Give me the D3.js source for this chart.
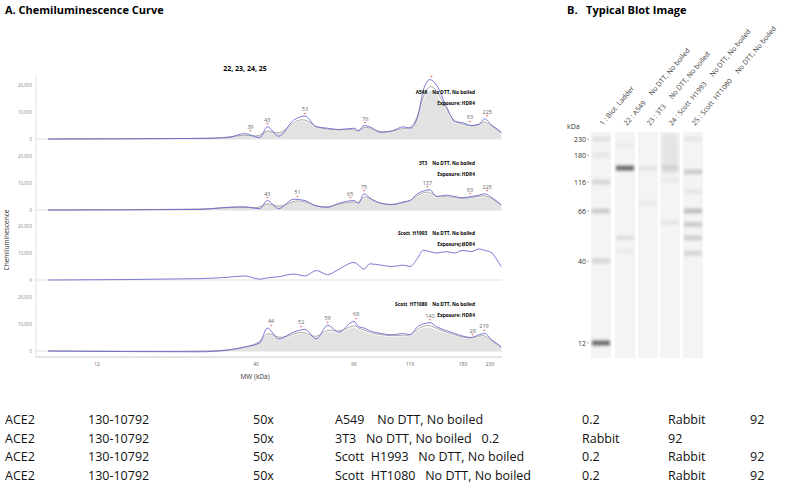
<!DOCTYPE html>
<html><head><meta charset="utf-8">
<script src="https://cdn.jsdelivr.net/npm/d3@7"></script>
<style>body{margin:0;background:#fff}svg{display:block}text{font-family:"Open Sans",Lato,sans-serif}</style>
</head><body><svg id="c" width="800" height="489"></svg>
<script>
// x ticks of the curve panels and blot markers (kDa)
var mwTicks = [12, 40, 66, 116, 180, 230];
var yTicks = [0, 10000, 20000];

var samples = ["A549", "3T3", "Scott  H1993", "Scott  HT1080"];
var mw = [8, 30, 35, 38, 41, 43, 46, 50, 53, 56, 59, 62, 66, 70, 75, 80, 90, 100, 110, 116, 125, 132, 140, 148, 160, 170, 180, 195, 210, 220, 235, 245, 258];
var a549 = [0, 200, 500, 2000, 500, 4500, 1000, 7000, 8500, 4500, 4000, 3500, 4000, 3000, 5000, 4500, 2500, 3000, 4500, 4000, 8000, 18000, 22000, 20000, 12000, 6500, 6000, 5000, 5500, 7500, 5000, 4000, 2500];
var t3 = [0, 200, 1000, 1200, 500, 3500, 500, 4000, 3500, 1500, 1000, 2500, 3500, 2500, 6000, 4500, 2500, 2000, 3000, 3500, 6000, 7000, 7500, 5000, 5500, 5000, 4500, 5000, 5500, 6000, 4500, 3500, 2000];
var h1993 = [0, 500, 1000, 1500, 300, 800, 1200, 2200, 1500, 3500, 2000, 4000, 6500, 5500, 4000, 6000, 5500, 5000, 5500, 5000, 8000, 11000, 10500, 10000, 10500, 10000, 11000, 10500, 11500, 11000, 10000, 8000, 5000];
var ht1080 = [0, -300, 300, 1500, 3000, 8500, 4500, 7000, 8000, 4500, 9500, 7000, 11000, 9000, 8500, 7500, 6500, 6000, 6500, 6000, 9000, 10000, 10500, 9000, 7500, 6500, 5500, 5000, 6000, 6500, 4000, 3000, 1500];
var series = [a549, t3, h1993, ht1080];
var peaks = [
  [[39, 2000], [43, 4500], [53, 8500], [76, 5000], [142, 22000], [193, 5500], [225, 7500]],
  [[43, 3500], [51, 4000], [65, 3500], [75, 6000], [137, 7500], [193, 5000], [225, 6000]],
  [[178, 10500]],
  [[44, 8500], [52, 8000], [59, 9500], [68, 11000], [140, 10500], [198, 5000], [219, 6500]]
];
var peakLabels = [["39", "43", "53", "76", "", "93", "225"], ["43", "51", "65", "75", "137", "93", "225"], ["24"], ["44", "52", "59", "68", "140", "28", "219"]];

// blot
var lanes = ["1 : Biot. Ladder", "22 : A549     No DTT, No boiled", "23 : 3T3     No DTT, No boiled", "24 : Scott  H1993     No DTT, No boiled", "25 : Scott  HT1080     No DTT, No boiled"];
var bandLane = [0, 0, 0, 0, 0, 0, 1, 1, 1, 1, 2, 2, 3, 3, 3, 4, 4, 4, 4, 4, 4, 4];
var bandMw = [230, 180, 116, 66, 40, 12, 149, 210, 52, 45, 148, 80, 150, 120, 60, 230, 140, 100, 66, 59, 52, 44];
var bandAlpha = [0.07, 0.05, 0.12, 0.16, 0.12, 0.55, 0.55, 0.03, 0.08, 0.03, 0.06, 0.04, 0.07, 0.04, 0.06, 0.05, 0.16, 0.05, 0.22, 0.16, 0.14, 0.12];

var table = [
  ["ACE2", "130-10792", "50x", "A549    No DTT, No boiled", "0.2", "Rabbit", "92"],
  ["ACE2", "130-10792", "50x", "3T3   No DTT, No boiled   0.2", "Rabbit", "92", ""],
  ["ACE2", "130-10792", "50x", "Scott  H1993   No DTT, No boiled", "0.2", "Rabbit", "92"],
  ["ACE2", "130-10792", "50x", "Scott  HT1080   No DTT, No boiled", "0.2", "Rabbit", "92"]
];

var svg = d3.select("#c");
var x = d3.scaleLinear().domain([7, 12, 40, 66, 116, 180, 230, 260]).range([36, 97, 256, 354, 410, 463, 490, 502]).clamp(true);
var zeros = [139, 210, 280, 351];

svg.append("text").attr("x", 5).attr("y", 14).attr("font-size", 11).attr("font-weight", "bold").text("A. Chemiluminescence Curve");
svg.append("text").attr("x", 245).attr("y", 71).attr("text-anchor", "middle").attr("font-size", 7).attr("font-weight", "bold").text("22, 23, 24, 25");

zeros.forEach(function(z0, i) {
  var y = d3.scaleLinear().domain([0, 20000]).range([z0, z0 - 54]);
  var g = svg.append("g");
  g.append("line").attr("x1", 36).attr("x2", 502).attr("y1", z0).attr("y2", z0).attr("stroke", "#ccc").attr("stroke-width", 0.6);
  yTicks.forEach(function(t) {
    g.append("text").attr("x", 32).attr("y", y(t) + 2).attr("text-anchor", "end").attr("font-size", 4.5).attr("fill", "#888").text(d3.format(",")(t));
  });
  var pts = mw.map(function(m, k) { return [m, series[i][k]]; });
  if (i != 2) {
    g.append("path").datum(pts).attr("fill", "#e2e2e2")
      .attr("d", d3.area().x(function(d) { return x(d[0]); }).y0(z0).y1(function(d) { return y(Math.max(0, d[1]) * 0.85); }).curve(d3.curveBasis));
    g.append("path").datum(pts).attr("fill", "none").attr("stroke", "#555").attr("stroke-width", 0.5)
      .attr("d", d3.line().x(function(d) { return x(d[0]); }).y(function(d) { return y(d[1] * 0.92); }).curve(d3.curveBasis));
  }
  g.append("path").datum(pts).attr("fill", "none").attr("stroke", "#6a6ad0").attr("stroke-width", 0.9)
    .attr("d", d3.line().x(function(d) { return x(d[0]); }).y(function(d) { return y(d[1]); }).curve(d3.curveMonotoneX));
  peaks[i].forEach(function(p, k) {
    g.append("text").attr("x", x(p[0])).attr("y", y(p[1]) - 5).attr("text-anchor", "middle").attr("font-size", 5.5).attr("fill", "#666").text(peakLabels[i][k]);
    if (i != 2) g.append("text").attr("x", x(p[0])).attr("y", y(p[1]) - 0.5).attr("text-anchor", "middle").attr("font-size", 5).attr("fill", "#d66").text("+");
  });
  g.append("text").attr("x", 475).attr("y", z0 - 45).attr("text-anchor", "end").attr("font-size", 4.8).attr("font-weight", "bold").attr("xml:space", "preserve").text(samples[i] + "    No DTT, No boiled");
  g.append("text").attr("x", 475).attr("y", z0 - 34).attr("text-anchor", "end").attr("font-size", 4.8).attr("font-weight", "bold").text("Exposure: HDR4");
});
svg.append("line").attr("x1", 36).attr("x2", 36).attr("y1", 76).attr("y2", 357).attr("stroke", "#ccc").attr("stroke-width", 0.6);
svg.append("line").attr("x1", 36).attr("x2", 502).attr("y1", 357).attr("y2", 357).attr("stroke", "#bbb").attr("stroke-width", 0.8);
mwTicks.forEach(function(t) {
  svg.append("text").attr("x", x(t)).attr("y", 366).attr("text-anchor", "middle").attr("font-size", 5).attr("fill", "#666").text(t);
});
svg.append("text").attr("x", 255).attr("y", 379).attr("text-anchor", "middle").attr("font-size", 6.5).attr("fill", "#333").text("MW (kDa)");
svg.append("text").attr("transform", "translate(9,240) rotate(-90)").attr("text-anchor", "middle").attr("font-size", 6.5).attr("fill", "#333").text("Chemiluminescence");

// Panel B
svg.append("text").attr("x", 567).attr("y", 14).attr("font-size", 11).attr("font-weight", "bold").attr("xml:space", "preserve").text("B.   Typical Blot Image");
var by = d3.scaleLinear().domain([12, 40, 66, 116, 180, 230]).range([343, 261, 211, 182, 155, 139]);
var laneX = [591, 615, 638, 660, 683], laneW = 20;
var defs = svg.append("defs");
defs.append("filter").attr("id", "bl").attr("y", "-100%").attr("height", "300%").append("feGaussianBlur").attr("stdDeviation", 1.8);
lanes.forEach(function(l, i) {
  svg.append("rect").attr("x", laneX[i]).attr("y", 132).attr("width", laneW).attr("height", 226).attr("fill", "#f4f4f4");
  svg.append("text").attr("transform", "translate(" + (laneX[i] + 12) + ",126) rotate(-50)").attr("font-size", 7).attr("fill", "#444").attr("xml:space", "preserve").text(l);
});
svg.append("rect").attr("x", laneX[3] + 2).attr("y", 134).attr("width", laneW - 4).attr("height", 40).attr("fill", "#000").attr("opacity", 0.06).attr("filter", "url(#bl)");
bandMw.forEach(function(m, k) {
  svg.append("rect").attr("x", laneX[bandLane[k]] + 1).attr("y", by(m) - 2.5).attr("width", laneW - 2).attr("height", 5)
    .attr("fill", "#000").attr("opacity", bandAlpha[k]).attr("filter", "url(#bl)");
});
svg.append("text").attr("x", 567).attr("y", 129).attr("font-size", 7).attr("fill", "#333").text("kDa");
mwTicks.forEach(function(t) {
  svg.append("text").attr("x", 586).attr("y", by(t) + 2.5).attr("text-anchor", "end").attr("font-size", 7).attr("fill", "#333").text(t);
  svg.append("line").attr("x1", 587).attr("x2", 589).attr("y1", by(t)).attr("y2", by(t)).attr("stroke", "#666").attr("stroke-width", 0.5);
});

// table
var colX = [5, 88, 253, 335, 582, 668, 750];
table.forEach(function(r, i) {
  r.forEach(function(c, j) {
    svg.append("text").attr("x", colX[j]).attr("y", 424 + i * 18.7).attr("font-size", 12.5).attr("fill", "#111").attr("xml:space", "preserve").text(c);
  });
});
</script></body></html>
